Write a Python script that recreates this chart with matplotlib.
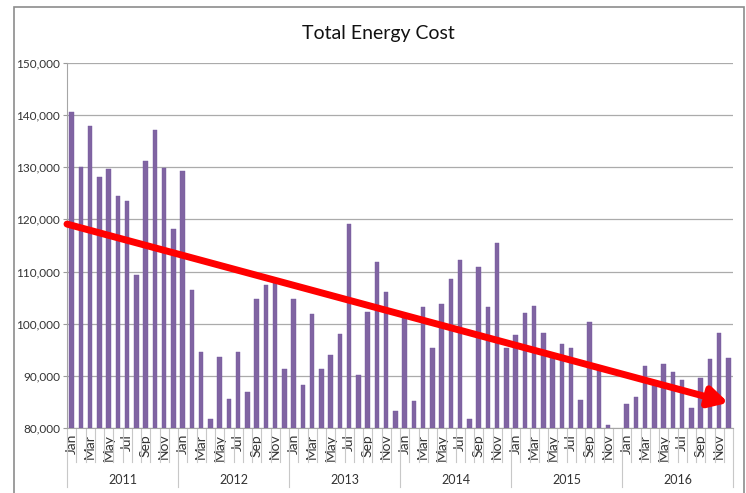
import numpy as np
import matplotlib.pyplot as plt
import matplotlib.transforms as mtransforms
from matplotlib.patches import Rectangle

plt.rcParams['font.family'] = ['Lato', 'DejaVu Sans']

years = ['2011', '2012', '2013', '2014', '2015', '2016']
months = ['Jan', 'Feb', 'Mar', 'Apr', 'May', 'Jun',
          'Jul', 'Aug', 'Sep', 'Oct', 'Nov', 'Dec']

cost_2011 = [140500, 130000, 137900, 128100, 129600, 124400,
             123600, 109300, 131200, 137100, 129800, 118100]
cost_2012 = [129300, 106400, 94700, 81700, 93700, 85600,
             94700, 86900, 104700, 107400, 107900, 91400]
cost_2013 = [104800, 88200, 101900, 91400, 94100, 98000,
             119200, 90200, 102300, 111900, 106100, 83400]
cost_2014 = [101200, 85200, 103300, 95400, 103800, 108600,
             112300, 81800, 110800, 103300, 115400, 95400]
cost_2015 = [97800, 102100, 103500, 98300, 93600, 96100,
             95300, 85400, 100400, 91200, 80600, np.nan]
cost_2016 = [84700, 85900, 91900, 88600, 92300, 90800,
             89200, 83800, 89700, 93300, 98200, 93500]

# red arrow drawn over the chart (start / end values)
trend_start = 119100
trend_end = 84900

cost = np.concatenate([cost_2011, cost_2012, cost_2013,
                       cost_2014, cost_2015, cost_2016])
n = len(cost)
idx = np.arange(n)

fig = plt.figure(figsize=(7.46, 4.93), dpi=100)
ax = fig.add_axes([67 / 746, 1 - 428.3 / 493, 666 / 746, 365.6 / 493])

# Столбцы
ax.bar(idx, cost - 80000, bottom=80000, width=0.46,
       color='#8064A2', edgecolor='#7459A0', linewidth=0.3, zorder=3)

ax.set_xlim(-0.5, n - 0.5)
ax.set_ylim(80000, 150000)
ax.set_yticks(np.arange(80000, 150001, 10000))
ax.set_yticklabels([f'{v:,}' for v in range(80000, 150001, 10000)])
ax.yaxis.grid(True, color='#ABABAB', linewidth=0.9, zorder=0)
ax.tick_params(axis='y', length=3, width=0.8, color='#9A9A9A',
               labelsize=8.5, pad=2, labelcolor='#333333')

for side in ['top', 'right']:
    ax.spines[side].set_visible(False)
ax.spines['left'].set_color('#A6A6A6')
ax.spines['bottom'].set_color('#A6A6A6')
ax.spines['left'].set_linewidth(0.8)
ax.spines['bottom'].set_linewidth(0.8)

# Подписи месяцев
month_ticks = idx[::2]
ax.set_xticks(month_ticks)
ax.set_xticklabels([months[i % 12] for i in month_ticks], rotation=90,
                   color='#333333')
ax.tick_params(axis='x', length=0, pad=4, labelsize=10)

# Разделители месяцев и лет
trans = mtransforms.blended_transform_factory(ax.transData, ax.transAxes)
for b in np.arange(-0.5, n, 1.0):
    depth = -0.16 if (b + 0.5) % 12 == 0 else -0.093
    ax.plot([b, b], [0, depth], transform=trans, color='#C8C8C8',
            linewidth=0.8, clip_on=False)

for k, yr in enumerate(years):
    ax.text(12 * k + 5.5, -0.142, yr, transform=trans, ha='center',
            va='center', fontsize=9, color='#333333')

# Красная стрелка
ax.annotate('', xy=(n - 1, trend_end), xytext=(-0.5, trend_start),
            arrowprops=dict(arrowstyle='-|>,head_length=1.1,head_width=0.6',
                            color='#FF0000', lw=5, shrinkA=0, shrinkB=0),
            zorder=5)

fig.text(378 / 746, 1 - 33 / 493, 'Total Energy Cost', ha='center',
         va='center', fontsize=14, color='#111111')

# Рамка диаграммы
fig.patches.append(Rectangle((13.5 / 746, -0.02), (744 - 13.5) / 746,
                             1.02 - 7 / 493, transform=fig.transFigure,
                             fill=False, edgecolor='#8C8C8C', linewidth=1.2))

fig.savefig('out.png', dpi=100)
